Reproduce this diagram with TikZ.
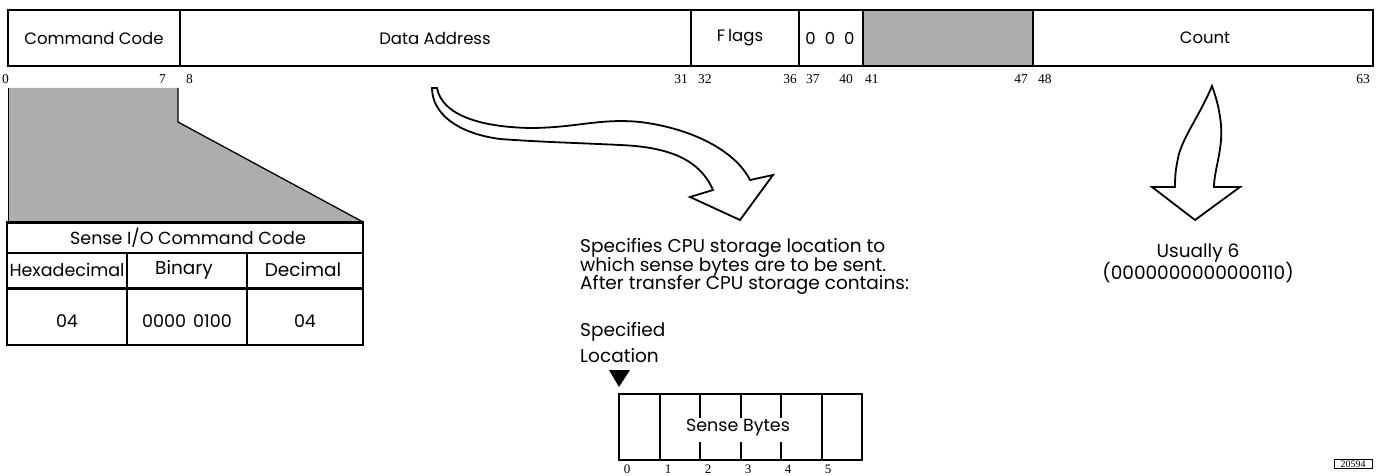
\documentclass[tikz,border=0pt]{standalone}
\usepackage{fontspec}
\setsansfont{Poppins}
\newfontfamily\numfont{Liberation Serif}
\begin{document}
\begin{tikzpicture}[x=1pt,y=-1pt,
  fld/.style={font=\sffamily\fontsize{16.5}{19}\selectfont, inner sep=0pt},
  tbl/.style={font=\sffamily\fontsize{17.5}{19}\selectfont, inner sep=0pt},
  bit/.style={font=\numfont\fontsize{13.5}{14}\selectfont, inner sep=0pt},
  txt/.style={font=\sffamily\fontsize{18.5}{19}\selectfont, inner sep=0pt},
  box/.style={draw, line width=1.6pt},
  thick line/.style={line width=3pt},
  shade/.style={fill=black!32},
  bigarrow/.style={draw, fill=white, line width=1.8pt, line join=miter}
]
\useasboundingbox (0,0) rectangle (1380,476);
% shaded areas
\fill[shade] (863,10) rectangle (1033,66);
\fill[shade] (8,88) -- (178,88) -- (178,122) -- (363,222) -- (8,222) -- cycle;
\draw[line width=1.3pt] (178,88) -- (178,122) -- (363,222);
\draw[line width=0.6pt] (8,88) -- (8,222);
% field bar
\draw[box] (8,10) rectangle (1373,66);
\foreach \x in {180,691,799,863,1033} \draw[box] (\x,10) -- (\x,66);
\node[fld] (cc) at (94,38) {Command Code};
\node[fld] (da) at (435,38) {Data Address};
\node[fld] (fl) at (740,38) {F\kern3pt lags};
\node[fld] (zz) at (830,38) {0\hspace{9pt}0\hspace{9pt}0};
\node[fld] (ct) at (1205,38) {Count};
% bit numbers
\node[bit, anchor=west] (b0) at (2,79) {0};
\node[bit, anchor=east] (b7) at (166,79) {7};
\node[bit, anchor=west] (b8) at (186,79) {8};
\node[bit, anchor=east] (b31) at (688,79) {31};
\node[bit, anchor=west] (b32) at (698,79) {32};
\node[bit, anchor=east] (b36) at (797,79) {36};
\node[bit, anchor=west] (b37) at (806,79) {37};
\node[bit, anchor=east] (b40) at (853,79) {40};
\node[bit, anchor=west] (b41) at (865,79) {41};
\node[bit, anchor=east] (b47) at (1028,79) {47};
\node[bit, anchor=west] (b48) at (1038,79) {48};
\node[bit, anchor=east] (b63) at (1370,79) {63};
% command code table
\draw[box] (7,222) rectangle (363,345);
\draw[thick line] (7,222) -- (363,222);
\draw[box] (7,253) -- (363,253);
\draw[thick line] (7,288) -- (363,288);
\draw[box] (127,253) -- (127,345);
\draw[box] (247,253) -- (247,345);
\node[tbl] (ttl) at (188,238) {Sense I/O Command Code};
\node[tbl] (hx) at (67,270) {Hexadecimal};
\node[tbl, font=\sffamily\fontsize{18.5}{20}\selectfont] (bn) at (184,270) {Binary};
\node[tbl, font=\sffamily\fontsize{18.5}{20}\selectfont] (dc) at (303,270) {Decimal};
\node[tbl] (v1) at (67,321) {04};
\node[tbl] (v2) at (187,321) {0000\hspace{7pt}0100};
\node[tbl] (v3) at (305,321) {04};
% data address arrow
\draw[bigarrow] (437,88) .. controls (442,115) and (480,127) .. (530,128)
  .. controls (575,128) and (600,118) .. (640,122)
  .. controls (690,128) and (735,150) .. (750,180)
  -- (773,175) -- (740,220) -- (690,197) -- (713,190)
  .. controls (700,160) and (670,147) .. (620,145)
  .. controls (580,143) and (540,142) .. (500,139)
  .. controls (455,133) and (432,112) .. (432,88) -- cycle;
% count arrow
\draw[bigarrow] (1212,86) .. controls (1200,115) and (1182,138) .. (1178,158)
  .. controls (1175,172) and (1175,180) .. (1175,187)
  -- (1152,187) -- (1195,220) -- (1240,187) -- (1214,187)
  .. controls (1214,170) and (1223,150) .. (1221,125)
  .. controls (1219,105) and (1215,95) .. (1212,86) -- cycle;
% explanation texts
\node[txt, anchor=west] (s1) at (580,248) {Specifies CPU storage location to};
\node[txt, anchor=west] (s2) at (580,266.5) {which sense bytes are to be sent.};
\node[txt, anchor=west] (s3) at (580,285) {After transfer CPU storage contains:};
\node[txt, anchor=west] (sp1) at (580,332) {Specified};
\node[txt, anchor=west] (sp2) at (580,356) {Location};
\node[txt] (u1) at (1198,253) {Usually 6};
\node[txt] (u2) at (1198,273) {(0000000000000110)};
% sense bytes
\fill (609,370) -- (630,370) -- (619,387) -- cycle;
\draw[box] (619,394) rectangle (862,460);
\draw[box] (660,394) -- (660,460);
\draw[box] (822,394) -- (822,460);
\foreach \x in {700,741,781} {\draw[box] (\x,394) -- (\x,418); \draw[box] (\x,442) -- (\x,460);}
\node[tbl] (sb) at (738,428) {Sense Bytes};
\foreach \x/\n in {627/0,668/1,708/2,748/3,788/4,828/5} \node[bit, font=\numfont\fontsize{13}{13}\selectfont] (l\n) at (\x,469) {\n};
% figure number
\node[draw, line width=0.8pt, font=\numfont\fontsize{10}{11}\selectfont, inner sep=1.5pt, minimum width=38pt] (fig) at (1353,464) {20594};
\end{tikzpicture}
\end{document}
